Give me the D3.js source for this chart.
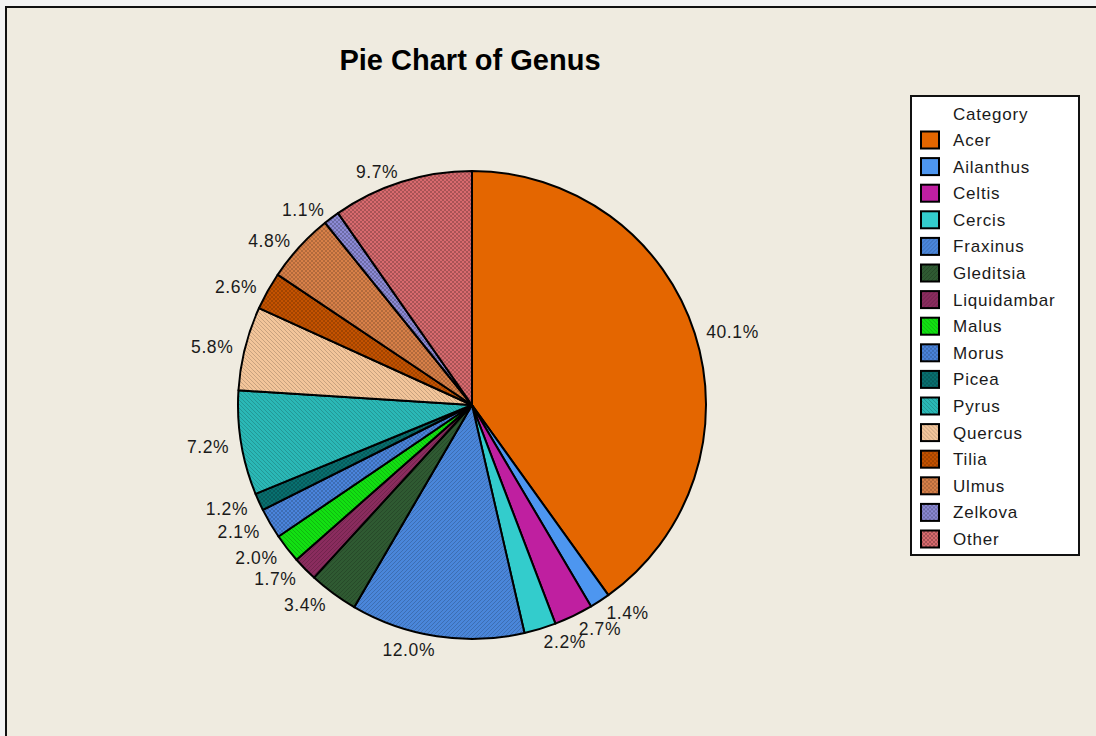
<!DOCTYPE html>
<html>
<head>
<meta charset="utf-8">
<script src="https://cdn.jsdelivr.net/npm/d3@7"></script>
<style>
  body { margin: 0; background: #f3f3f3; }
  svg { display: block; }
  text { font-family: "Liberation Sans", Arial, sans-serif; fill: #1a1a1a; }
</style>
</head>
<body>
<script>
// Screen dimensions.
const WIDTH = 1096;
const HEIGHT = 736;

// Data
const categories = ["Acer", "Ailanthus", "Celtis", "Cercis", "Fraxinus", "Gleditsia", "Liquidambar", "Malus",
  "Morus", "Picea", "Pyrus", "Quercus", "Tilia", "Ulmus", "Zelkova", "Other"];
const percents = [40.1, 1.4, 2.7, 2.2, 12.0, 3.4, 1.7, 2.0, 2.1, 1.2, 7.2, 5.8, 2.6, 4.8, 1.1, 9.7];
const colors = ["#e46600", "#4d96f0", "#bf1fa0", "#33cccc", "#4a86da", "#2f5a32", "#8a2c5e", "#12e012",
  "#4a84dc", "#087070", "#2ab8b6", "#f3c59a", "#c45200", "#d88048", "#8c8ad6", "#d86a6e"];
// hatch style per slice: none, "/" , "\\", "x", "grid"
const hatches = ["none", "none", "none", "none", "/", "/", "/", "\\", "x", "x", "\\", "\\", "x", "x", "grid", "grid"];

const svg = d3.select("body").append("svg").attr("width", WIDTH).attr("height", HEIGHT);

// Frame
svg.append("rect").attr("x", 6).attr("y", 7).attr("width", WIDTH).attr("height", HEIGHT)
  .attr("fill", "#efebe0").attr("stroke", "#111").attr("stroke-width", 2);

// Patterns
const defs = svg.append("defs");
categories.forEach((c, i) => {
  const p = defs.append("pattern").attr("id", "pat" + i)
    .attr("patternUnits", "userSpaceOnUse").attr("width", 4).attr("height", 4);
  p.append("rect").attr("width", 4).attr("height", 4).attr("fill", colors[i]);
  const line = d3.color(colors[i]).darker(0.7);
  const h = hatches[i];
  if (h === "/" || h === "x") {
    p.append("path").attr("d", "M-1,1 l2,-2 M0,4 l4,-4 M3,5 l2,-2")
      .attr("stroke", line).attr("stroke-width", 0.8);
  }
  if (h === "\\" || h === "x") {
    p.append("path").attr("d", "M-1,3 l2,2 M0,0 l4,4 M3,-1 l2,2")
      .attr("stroke", line).attr("stroke-width", 0.8);
  }
  if (h === "grid") {
    p.append("rect").attr("x", 0).attr("y", 0).attr("width", 2).attr("height", 2).attr("fill", line);
    p.append("rect").attr("x", 2).attr("y", 2).attr("width", 2).attr("height", 2).attr("fill", line);
  }
});
const fillFor = i => hatches[i] === "none" ? colors[i] : "url(#pat" + i + ")";

// Title
svg.append("text").attr("x", 470).attr("y", 70).attr("text-anchor", "middle")
  .style("font-size", "29px").style("font-weight", "bold").style("fill", "#000")
  .text("Pie Chart of Genus");

// Pie
const cx = 472, cy = 405, R = 234;
const pie = d3.pie().sort(null).value(d => d)(percents);
const arc = d3.arc().innerRadius(0).outerRadius(R);
const labelArc = d3.arc().innerRadius(R + 12).outerRadius(R + 12);

const g = svg.append("g").attr("transform", `translate(${cx},${cy})`);
g.selectAll("path.slice").data(pie).enter().append("path")
  .attr("class", "slice")
  .attr("d", arc)
  .attr("fill", (d, i) => fillFor(i))
  .attr("stroke", "#000").attr("stroke-width", 2).attr("stroke-linejoin", "round");

g.selectAll("text.lbl").data(pie).enter().append("text")
  .attr("class", "lbl")
  .attr("x", d => labelArc.centroid(d)[0])
  .attr("y", d => labelArc.centroid(d)[1] + 2)
  .attr("dy", "0.35em")
  .attr("text-anchor", d => (d.startAngle + d.endAngle) / 2 < Math.PI ? "start" : "end")
  .style("font-size", "17.5px").style("letter-spacing", "0.6px")
  .text(d => d.data.toFixed(1) + "%");

// Legend
const legend = svg.append("g").attr("transform", "translate(911,96)");
legend.append("rect").attr("width", 168).attr("height", 459)
  .attr("fill", "#fff").attr("stroke", "#111").attr("stroke-width", 2);
legend.append("text").attr("x", 42).attr("y", 24).style("font-size", "17px")
  .style("letter-spacing", "0.8px").text("Category");

const rowY = d3.scaleLinear().domain([0, categories.length - 1]).range([44, 443]);
const rows = legend.selectAll("g.row").data(categories).enter().append("g")
  .attr("class", "row").attr("transform", (d, i) => `translate(0,${rowY(i)})`);
rows.append("rect").attr("x", 10).attr("y", -8.5).attr("width", 18).attr("height", 17)
  .attr("fill", (d, i) => fillFor(i)).attr("stroke", "#000").attr("stroke-width", 2);
rows.append("text").attr("x", 42).attr("y", 0).attr("dy", "0.35em")
  .style("font-size", "17px").style("letter-spacing", "0.8px").text(d => d);
</script>
</body>
</html>
